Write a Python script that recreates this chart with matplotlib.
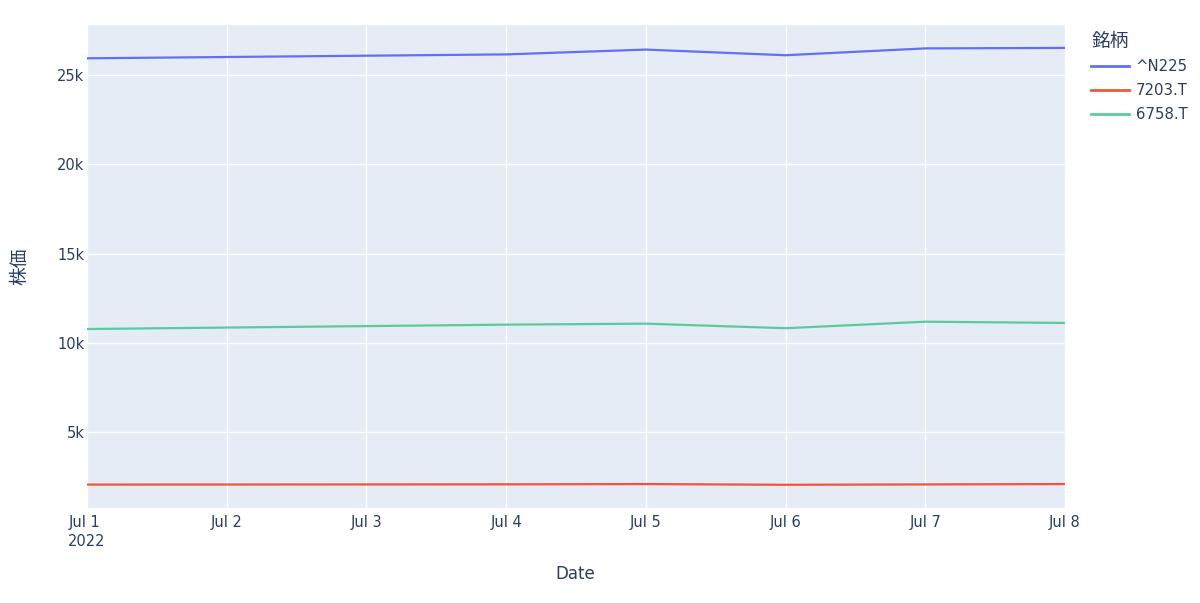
import matplotlib
matplotlib.use("Agg")
import matplotlib.pyplot as plt
from matplotlib.ticker import FuncFormatter
import datetime as dt

plt.rcParams['font.family'] = ['DejaVu Sans', 'Noto Sans CJK JP']

dates = ["2022-07-01", "2022-07-04", "2022-07-05", "2022-07-06", "2022-07-07", "2022-07-08"]
n225 = [25935.6, 26153.8, 26423.5, 26107.7, 26490.5, 26517.2]
toyota = [2070, 2085, 2100, 2060, 2080, 2100]
sony = [10780, 11025, 11080, 10825, 11190, 11120]
series_names = ["^N225", "7203.T", "6758.T"]
colors = ["#636EFA", "#EF553B", "#5BCB9C"]
tick_dates = ["2022-07-0%d" % d for d in range(1, 9)]

x = [dt.datetime.strptime(d, "%Y-%m-%d") for d in dates]
xt = [dt.datetime.strptime(d, "%Y-%m-%d") for d in tick_dates]

W, H = 1200, 603
TXT = "#2a3f5f"
fig = plt.figure(figsize=(W / 100, H / 100), dpi=100)
ax = fig.add_axes([87 / W, 1 - 508 / H, (1065 - 87) / W, (508 - 25) / H])
ax.set_facecolor("#E5ECF6")

for vals, name, c in zip([n225, toyota, sony], series_names, colors):
    ax.plot(x, vals, color=c, lw=1.6, label=name, solid_joinstyle="round")

ax.set_xlim(xt[0], xt[-1])
ax.set_ylim(760, 27800)
ax.set_yticks([5000, 10000, 15000, 20000, 25000])
ax.yaxis.set_major_formatter(FuncFormatter(lambda v, p: "%dk" % (v / 1000)))
ax.set_xticks(xt)
labels = []
for i, d in enumerate(xt):
    lab = "Jul %d" % d.day
    if i == 0:
        lab += "\n2022"
    labels.append(lab)
ax.set_xticklabels(labels, linespacing=1.3)
ax.get_xticklabels()[0].set_multialignment("left")

ax.grid(True, color="white", lw=1)
ax.set_axisbelow(True)
for s in ax.spines.values():
    s.set_visible(False)
ax.tick_params(length=0, colors=TXT, labelsize=10.5)
ax.tick_params(axis="y", pad=2)
ax.tick_params(axis="x", pad=5)

fig.text(575 / W, 1 - 574 / H, "Date", fontsize=12, color=TXT, ha="center", va="center")
fig.text(20 / W, 1 - 266 / H, "株価", fontsize=13.5, color=TXT, ha="center", va="center", rotation=90)

leg = fig.legend(title="銘柄", loc="upper left", bbox_to_anchor=(1087 / W, 1 - 27 / H),
                 frameon=False, fontsize=10.7, title_fontsize=13.5,
                 handlelength=2.55, handletextpad=0.42, labelspacing=0.6,
                 borderaxespad=0.0, borderpad=0.3)
leg._legend_box.align = "left"
leg.get_title().set_color(TXT)
for t in leg.get_texts():
    t.set_color(TXT)
for l in leg.get_lines():
    l.set_linewidth(2)

fig.savefig("out.png", dpi=100)
